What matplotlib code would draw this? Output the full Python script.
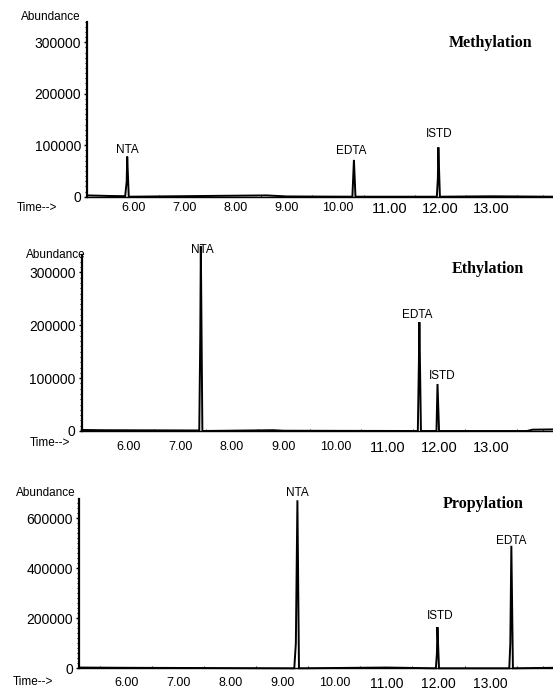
import matplotlib
matplotlib.use("Agg")
import matplotlib.pyplot as plt
from matplotlib.ticker import MultipleLocator, FixedLocator

# ---------------- data ----------------
x_ticks = [6, 7, 8, 9, 10, 11, 12, 13]
x_tick_labels = ["6.00", "7.00", "8.00", "9.00", "10.00", "11.00", "12.00", "13.00"]

titles = ["Methylation", "Ethylation", "Propylation"]

# Methylation trace (retention time in min, abundance)
meth_time = [5.10, 5.50, 5.84, 5.87, 5.88, 5.91, 7.50, 8.60, 9.00, 10.28, 10.31, 10.34,
             11.93, 11.95, 11.96, 11.99, 13.00, 14.20]
meth_abund = [2500, 1500, 1000, 30000, 78000, 0, 1500, 2500, 500, 0, 71500, 0,
              0, 35000, 96000, 0, 800, 0]
meth_peaks = ["NTA", "EDTA", "ISTD"]
meth_peak_time = [5.88, 10.31, 11.96]
meth_peak_height = [78000, 71500, 96000]

# Ethylation trace
eth_time = [5.10, 5.50, 7.37, 7.39, 7.40, 7.43, 8.80, 9.00, 11.59, 11.61, 11.62, 11.65,
            11.95, 11.97, 12.00, 13.70, 13.80, 14.20]
eth_abund = [2000, 1500, 1000, 185000, 350000, 0, 1500, 500, 0, 125000, 206000, 0,
             0, 89000, 0, 0, 2500, 3000]
eth_peaks = ["NTA", "EDTA", "ISTD"]
eth_peak_time = [7.40, 11.62, 11.97]
eth_peak_height = [350000, 206000, 89000]

# Propylation trace
prop_time = [5.10, 6.00, 9.23, 9.26, 9.29, 9.32, 11.00, 11.95, 11.97, 11.98, 12.01,
             13.36, 13.38, 13.40, 13.43, 14.20]
prop_abund = [3000, 2000, 0, 100000, 672000, 0, 3000, 0, 60000, 165000, 0,
              0, 100000, 490000, 0, 2000]
prop_peaks = ["NTA", "ISTD", "EDTA"]
prop_peak_time = [9.29, 11.98, 13.40]
prop_peak_height = [672000, 165000, 490000]

y_ticks_1 = [0, 100000, 200000, 300000]
y_ticks_2 = [0, 100000, 200000, 300000]
y_ticks_3 = [0, 200000, 400000, 600000]

# ---------------- layout ----------------
W, H = 553, 691
fig = plt.figure(figsize=(W / 100, H / 100), dpi=100)
fig.patch.set_facecolor("white")

SANS = ["Liberation Sans", "DejaVu Sans"]
SERIF = ["Liberation Serif", "DejaVu Serif"]

panels = [
    dict(left=87.3, base=196.7, top=21.7, ymax=340000, yticks=y_ticks_1, yminor=10000,
         t=meth_time, a=meth_abund, names=meth_peaks, pt=meth_peak_time, ph=meth_peak_height,
         offs=[(0, 4.8), (-2.2, 6.7), (0.7, 9.6)], xpad=4.0, bigsize=10.5,
         abund_xy=(50.5, 16.7), time_xy=(36.5, 207.7), title_xy=(491, 42.7), title=titles[0]),
    dict(left=81.7, base=431.0, top=255.0, ymax=333000, yticks=y_ticks_2, yminor=10000,
         t=eth_time, a=eth_abund, names=eth_peaks, pt=eth_peak_time, ph=eth_peak_height,
         offs=[(1.4, -2.9), (-1.2, 4.8), (3.6, 6.0)], xpad=7.5, bigsize=10.5,
         abund_xy=(55.5, 255.0), time_xy=(49.5, 443.0), title_xy=(488, 269.0), title=titles[1]),
    dict(left=79.3, base=668.3, top=499.3, ymax=676000, yticks=y_ticks_3, yminor=20000,
         t=prop_time, a=prop_abund, names=prop_peaks, pt=prop_peak_time, ph=prop_peak_height,
         offs=[(0, 5.0), (1.7, 7.9), (0, 3.1)], xpad=6.0, bigsize=10.0,
         abund_xy=(45.5, 493.0), time_xy=(32.5, 681.7), title_xy=(483, 504.3), title=titles[2]),
]

for p in panels:
    rect = [p["left"] / W, 1 - p["base"] / H, (W - p["left"]) / W, (p["base"] - p["top"]) / H]
    ax = fig.add_axes(rect)
    ax.set_facecolor("none")
    ax.plot(p["t"], p["a"], color="black", lw=1.4, clip_on=False, solid_joinstyle="miter")
    ax.set_xlim(5.1, 14.2)
    ax.set_ylim(0, p["ymax"])
    for s in ["top", "right"]:
        ax.spines[s].set_visible(False)
    ax.spines["left"].set_linewidth(1.6)
    ax.spines["bottom"].set_linewidth(1.0)

    ax.xaxis.set_major_locator(FixedLocator(x_ticks))
    ax.set_xticklabels(x_tick_labels, fontfamily=SANS)
    ax.xaxis.set_minor_locator(MultipleLocator(0.5))
    ax.tick_params(axis="x", which="major", length=0, pad=p["xpad"], labelsize=9)
    ax.tick_params(axis="x", which="minor", length=1.5, width=0.6, direction="in")
    for lab in ax.get_xticklabels():
        if lab.get_text() in ("11.00", "12.00", "13.00"):
            lab.set_fontsize(p["bigsize"])

    ax.yaxis.set_major_locator(FixedLocator(p["yticks"]))
    ax.set_yticklabels([str(v) for v in p["yticks"]], fontfamily=SANS)
    ax.yaxis.set_minor_locator(MultipleLocator(p["yminor"]))
    ax.tick_params(axis="y", which="major", length=2.5, width=1.0, pad=2.0, labelsize=10)
    ax.tick_params(axis="y", which="minor", length=1.5, width=0.7)

    for name, t, h, (dx, dy) in zip(p["names"], p["pt"], p["ph"], p["offs"]):
        ax.annotate(name, xy=(t, h), xytext=(dx, dy), textcoords="offset points",
                    ha="center", va="center", fontsize=8.5, fontfamily=SANS,
                    annotation_clip=False)

    ax_x, ax_y = p["abund_xy"]
    fig.text(ax_x / W, 1 - ax_y / H, "Abundance", ha="center", va="center",
             fontsize=8.5, fontfamily=SANS)
    tx, ty = p["time_xy"]
    fig.text(tx / W, 1 - ty / H, "Time-->", ha="center", va="center",
             fontsize=8.5, fontfamily=SANS)
    ttx, tty = p["title_xy"]
    fig.text(ttx / W, 1 - tty / H, p["title"], ha="center", va="center",
             fontsize=11.5, fontweight="bold", fontfamily=SERIF)

fig.savefig("out.png", dpi=100, facecolor="white")
